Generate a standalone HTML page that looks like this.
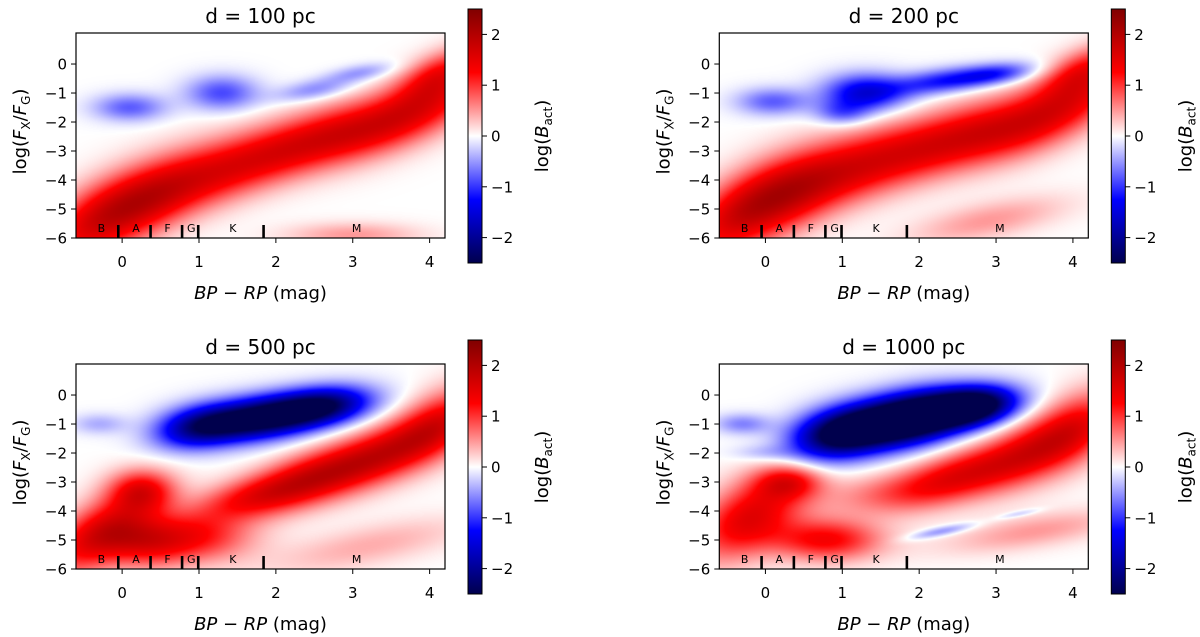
<!DOCTYPE html>
<html><head><meta charset="utf-8"><style>
html,body{margin:0;padding:0;background:#fff;width:1200px;height:637px;overflow:hidden}
#wrap{position:relative;width:1200px;height:637px}
canvas{position:absolute}
svg{position:absolute;left:0;top:0}
text{font-family:"DejaVu Sans","Liberation Sans",sans-serif;fill:#000}
</style></head><body>
<div id="wrap">
<svg id="svg" width="1200" height="637">
<defs>
<linearGradient id="seis" x1="0" y1="0" x2="0" y2="1">
<stop offset="0" stop-color="#800000"/><stop offset="0.25" stop-color="#ff0000"/>
<stop offset="0.5" stop-color="#ffffff"/><stop offset="0.75" stop-color="#0000ff"/>
<stop offset="1" stop-color="#00004d"/></linearGradient>
</defs>
</svg>
</div>
<script>
const titles = ["d = 100 pc","d = 200 pc","d = 500 pc","d = 1000 pc"];
const xTicks = [0,1,2,3,4];
const yTicks = [0,-1,-2,-3,-4,-5,-6];
const cbTicks = [2,1,0,-1,-2];
const specEdges = [-0.05,0.37,0.78,0.99,1.84];
const specLabels = ["B","A","F","G","K","M"];
const specLabelX = [-0.27,0.18,0.59,0.9,1.44,3.05];
// Gaussian blob components per panel (data units)
const blobX = [
 [-0.5,0.1,0.7,1.4,2.1,2.8,3.5,4.2,4.1, 0.1,1.3,2.5,3.1, 3.0],
 [-0.5,0.1,0.7,1.4,2.1,2.8,3.5,4.2,4.1, 0.1,1.3,1.0,2.3,3.0, 2.9],
 [-0.3,0.25,0.3,1.0,1.6,2.3,3.0,3.7,4.2,3.2, 1.0,1.8,2.6,-0.3],
 [-0.2,0.3,0.8,1.5,2.5,3.5,4.1,3.5, 1.0,1.9,2.7,-0.3,0.0,2.3,3.3]
];
const blobY = [
 [-5.6,-4.9,-4.2,-3.6,-3.0,-2.45,-1.95,-1.1,-0.3, -1.5,-1.0,-0.9,-0.3, -5.9],
 [-5.4,-4.6,-4.0,-3.4,-2.9,-2.4,-1.95,-1.0,-0.2, -1.3,-1.0,-1.7,-0.6,-0.35, -5.4],
 [-4.8,-3.3,-5.1,-4.9,-3.6,-3.0,-2.4,-1.7,-0.9,-5.2, -1.1,-0.8,-0.4,-1.0],
 [-4.2,-3.0,-5.0,-3.4,-2.8,-1.9,-1.1,-4.7, -1.3,-0.8,-0.4,-1.0,-2.0,-4.7,-4.1]
];
const blobSX = [
 [0.45,0.45,0.45,0.45,0.45,0.45,0.45,0.45,0.35, 0.33,0.33,0.35,0.3, 0.6],
 [0.45,0.45,0.45,0.45,0.45,0.45,0.45,0.45,0.35, 0.33,0.38,0.25,0.45,0.35, 0.7],
 [0.5,0.3,0.4,0.5,0.5,0.5,0.5,0.5,0.4,0.9, 0.4,0.5,0.45,0.25],
 [0.5,0.3,0.5,0.6,0.6,0.5,0.4,0.8, 0.45,0.5,0.4,0.25,0.3,0.3,0.2]
];
const blobSY = [
 [0.88,0.88,0.82,0.76,0.72,0.72,0.72,0.78,0.5, 0.33,0.42,0.25,0.2, 0.3],
 [0.92,0.92,0.86,0.8,0.76,0.76,0.76,0.8,0.5, 0.33,0.45,0.3,0.3,0.25, 0.45],
 [0.8,0.5,0.6,0.6,0.5,0.62,0.65,0.7,0.8,0.5, 0.5,0.5,0.45,0.25],
 [0.9,0.4,0.5,0.5,0.6,0.75,0.85,0.4, 0.6,0.6,0.45,0.25,0.2,0.12,0.08]
];
const blobAmp = [
 [1.05,1.2,1.05,1.0,1.05,1.12,1.12,1.0,0.8, -0.8,-0.9,-0.6,-0.5, 0.5],
 [1.1,1.25,1.1,1.05,1.05,1.12,1.12,1.0,0.8, -0.8,-1.5,-0.7,-1.1,-1.0, 0.5],
 [1.5,1.2,1.1,1.05,0.95,1.2,1.1,1.1,1.0,0.4, -1.9,-2.6,-2.3,-0.4],
 [1.5,1.0,1.3,0.5,1.35,1.2,1.0,0.5, -2.8,-3.6,-3.0,-0.6,-0.3,-0.6,-0.35]
];
const blobK = [
 [1.1,1.0,1.0,0.9,0.8,0.75,0.9,1.1,1.0, 0,0,0.4,0.4, 0],
 [1.1,1.0,1.0,0.9,0.8,0.75,0.9,1.1,1.0, 0,0,0,0.3,0.3, 0.5],
 [1.2,0,0,0,0.5,0.7,0.8,1.0,1.0,0.5, 0.3,0.3,0.3,0],
 [1.0,0,0,0.3,0.7,1.0,1.0,0.4, 0.4,0.4,0.3,0,0,0.5,0.5]
];

const NS='http://www.w3.org/2000/svg';
const svg=document.getElementById('svg');
const wrap=document.getElementById('wrap');
const PW=369, PH=205, XMIN=-0.6, XMAX=4.2, YMIN=-6, YMAX=1.07;
const offs=[[76,33],[719.3,33],[76,364],[719.3,364]];
function el(tag,attrs,parent){const e=document.createElementNS(NS,tag);for(const k in attrs)e.setAttribute(k,attrs[k]);(parent||svg).appendChild(e);return e;}
function seismic(v){
  let t=(v+2.5)/5; t=Math.max(0,Math.min(1,t));
  const st=[[0,0,0,77],[0.25,0,0,255],[0.5,255,255,255],[0.75,255,0,0],[1,128,0,0]];
  for(let i=0;i<4;i++){if(t<=st[i+1][0]){const f=(t-st[i][0])/(st[i+1][0]-st[i][0]);return [st[i][1]+f*(st[i+1][1]-st[i][1]),st[i][2]+f*(st[i+1][2]-st[i][2]),st[i][3]+f*(st[i+1][3]-st[i][3])];}}
  return [128,0,0];
}
for(let p=0;p<4;p++){
  const [ox,oy]=offs[p];
  const sx=v=>ox+(v-XMIN)/(XMAX-XMIN)*PW;
  const sy=v=>oy+(YMAX-v)/(YMAX-YMIN)*PH;
  const g=el('g',{});
  
  
  const cv=document.createElement('canvas');
  cv.width=PW;cv.height=PH;cv.style.left=ox+'px';cv.style.top=oy+'px';
  
  
  wrap.insertBefore(cv,svg);
  const ctx=cv.getContext('2d');const img=ctx.createImageData(PW,PH);
  const n=blobX[p].length;
  for(let j=0;j<PH;j++){const yv=YMAX-(j+0.5)/PH*(YMAX-YMIN);
    for(let i=0;i<PW;i++){const xv=XMIN+(i+0.5)/PW*(XMAX-XMIN);
      let f=0;
      for(let b=0;b<n;b++){const dx=(xv-blobX[p][b])/blobSX[p][b];const dy=(yv-blobY[p][b]-blobK[p][b]*(xv-blobX[p][b]))/blobSY[p][b];
        f+=blobAmp[p][b]*Math.exp(-0.5*(dx*dx+dy*dy));}
      const c=seismic(f);const k=4*(j*PW+i);img.data[k]=c[0];img.data[k+1]=c[1];img.data[k+2]=c[2];img.data[k+3]=255;}}
  ctx.putImageData(img,0,0);
  const fr=el('rect',{x:ox,y:oy,width:PW,height:PH,fill:'none',stroke:'#000','stroke-width':1.2},g);
  
  specEdges.forEach(v=>{const m=el('line',{x1:sx(v),x2:sx(v),y1:oy+PH-13,y2:oy+PH,stroke:'#000','stroke-width':2.6},g);
    });
  specLabels.forEach((s,i)=>{const t=el('text',{x:sx(specLabelX[i]),y:oy+PH-6,'font-size':11,'text-anchor':'middle'},g);t.textContent=s;
    });
  xTicks.forEach(v=>{el('line',{x1:sx(v),x2:sx(v),y1:oy+PH,y2:oy+PH+5,stroke:'#000','stroke-width':1},g);
    const t=el('text',{x:sx(v),y:oy+PH+29,'font-size':15,'text-anchor':'middle'},g);t.textContent=v;
    });
  yTicks.forEach(v=>{el('line',{x1:ox-5,x2:ox,y1:sy(v),y2:sy(v),stroke:'#000','stroke-width':1},g);
    const t=el('text',{x:ox-9,y:sy(v)+5.5,'font-size':15,'text-anchor':'end'},g);t.textContent=v<0?'\u2212'+(-v):v;
    });
  const tt=el('text',{x:ox+PW/2,y:oy-10,'font-size':20,'text-anchor':'middle'},g);tt.textContent=titles[p];
  
  const xl=el('text',{x:ox+PW/2,y:oy+PH+61,'font-size':18,'text-anchor':'middle'},g);
  xl.innerHTML='<tspan font-style="italic">BP</tspan> \u2212 <tspan font-style="italic">RP</tspan> (mag)';
  
  const yl=el('text',{x:0,y:0,'font-size':18,'text-anchor':'middle',transform:`translate(${ox-50},${oy+PH/2-4}) rotate(-90)`},g);
  yl.innerHTML='log(<tspan font-style="italic">F</tspan><tspan font-size="12" dy="4">X</tspan><tspan dy="-4">/</tspan><tspan font-style="italic">F</tspan><tspan font-size="12" dy="4">G</tspan><tspan dy="-4">)</tspan>';
  
  const cx=ox+392, cy=oy-24, cw=14, ch=254;
  const cb=el('rect',{x:cx,y:cy,width:cw,height:ch,fill:'url(#seis)',stroke:'#000','stroke-width':1},g);
  
  const cys=v=>cy+(2.5-v)/5*ch;
  cbTicks.forEach(v=>{el('line',{x1:cx+cw,x2:cx+cw+5,y1:cys(v),y2:cys(v),stroke:'#000','stroke-width':1},g);
    const t=el('text',{x:cx+cw+9,y:cys(v)+5.5,'font-size':15},g);t.textContent=v<0?'\u2212'+(-v):v;
    });
  const cl=el('text',{x:0,y:0,'font-size':18,'text-anchor':'middle',transform:`translate(${cx+80},${cy+ch/2}) rotate(-90)`},g);
  cl.innerHTML='log(<tspan font-style="italic">B</tspan><tspan font-size="12" dy="4">act</tspan><tspan dy="-4">)</tspan>';
  
}
</script>
</body></html>
